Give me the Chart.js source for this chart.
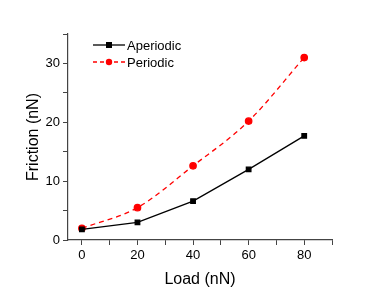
<!DOCTYPE html>
<html>
<head>
<meta charset="utf-8">
<script src="https://cdn.jsdelivr.net/npm/chart.js@4"></script>
<style>
  html, body { margin: 0; padding: 0; background: #fff; }
  #wrap { width: 385px; height: 289px; }
</style>
</head>
<body>
<div id="wrap"><canvas id="friction"></canvas></div>
<script>
var loads = [0, 20, 40, 60, 80];
var aperiodic = [1.8, 3.0, 6.6, 12.0, 17.7];
var periodic = [2.0, 5.5, 12.6, 20.2, 31.0];
var xTicks = [0, 10, 20, 30, 40, 50, 60, 70, 80, 90];
var yTicks = [0, 5, 10, 15, 20, 25, 30, 35];

var font = 'Arial, "Liberation Sans", sans-serif';

// legend drawn inside the plot, line + marker like the original
var insideLegend = {
    id: 'insideLegend',
    afterDraw: function(chart) {
        var ctx = chart.ctx;
        var items = [
            { label: 'Aperiodic', color: '#000', dash: [], square: true, y: 45 },
            { label: 'Periodic', color: '#ff0000', dash: [4, 3], square: false, y: 62 }
        ];
        ctx.save();
        items.forEach(function(it) {
            ctx.strokeStyle = it.color;
            ctx.fillStyle = it.color;
            ctx.lineWidth = 1.3;
            ctx.setLineDash(it.dash);
            ctx.beginPath();
            ctx.moveTo(93, it.y);
            ctx.lineTo(125, it.y);
            ctx.stroke();
            ctx.setLineDash([]);
            if (it.square) {
                ctx.fillRect(106, it.y - 3, 6, 6);
            } else {
                ctx.beginPath();
                ctx.arc(109, it.y, 3.2, 0, Math.PI * 2);
                ctx.fill();
            }
            ctx.fillStyle = '#000';
            ctx.font = '13px ' + font;
            ctx.textBaseline = 'middle';
            ctx.fillText(it.label, 127, it.y + 1);
        });
        ctx.restore();
    }
};

var friction = document.getElementById('friction');
var frictionChart = new Chart(friction, {
    type: 'line',
    data: {
        datasets: [{
            label: 'Aperiodic',
            data: loads.map(function(x, i) { return { x: x, y: aperiodic[i] }; }),
            borderColor: '#000',
            backgroundColor: '#000',
            borderWidth: 1.3,
            pointStyle: 'rect',
            pointRadius: 3.2,
            tension: 0
        }, {
            label: 'Periodic',
            data: loads.map(function(x, i) { return { x: x, y: periodic[i] }; }),
            borderColor: '#ff0000',
            backgroundColor: '#ff0000',
            borderWidth: 1.3,
            borderDash: [5, 4],
            pointStyle: 'circle',
            pointRadius: 3.2,
            cubicInterpolationMode: 'monotone'
        }]
    },
    options: {
        responsive: true,
        maintainAspectRatio: false,
        animation: false,
        layout: {
            padding: { left: 0, right: 53, top: 34, bottom: 0 }
        },
        plugins: {
            legend: { display: false },
            tooltip: { enabled: false }
        },
        scales: {
            x: {
                type: 'linear',
                min: -5,
                max: 90,
                afterBuildTicks: function(scale) {
                    scale.ticks = xTicks.map(function(v) { return { value: v }; });
                },
                afterFit: function(scale) { scale.height = 49; },
                border: { color: '#444', width: 1.2 },
                grid: { drawOnChartArea: false, tickLength: 5, color: '#444', tickWidth: 1 },
                ticks: {
                    color: '#000',
                    font: { family: font, size: 13 },
                    padding: 3,
                    autoSkip: false,
                    maxRotation: 0,
                    callback: function(v) { return v % 20 === 0 ? v : ''; }
                },
                title: {
                    display: true,
                    text: 'Load (nN)',
                    color: '#000',
                    font: { family: font, size: 16 },
                    padding: { top: 4, bottom: 0 }
                }
            },
            y: {
                min: 0,
                max: 35,
                afterBuildTicks: function(scale) {
                    scale.ticks = yTicks.map(function(v) { return { value: v }; });
                },
                afterFit: function(scale) { scale.width = 68; },
                border: { color: '#444', width: 1.2 },
                grid: { drawOnChartArea: false, tickLength: 5, color: '#444', tickWidth: 1 },
                ticks: {
                    color: '#000',
                    font: { family: font, size: 13 },
                    padding: 3,
                    autoSkip: false,
                    callback: function(v) { return v % 10 === 0 ? v : ''; }
                },
                title: {
                    display: true,
                    text: 'Friction (nN)',
                    color: '#000',
                    font: { family: font, size: 16 },
                    padding: { top: 24, bottom: 0 }
                }
            }
        }
    },
    plugins: [insideLegend]
});
</script>
</body>
</html>
